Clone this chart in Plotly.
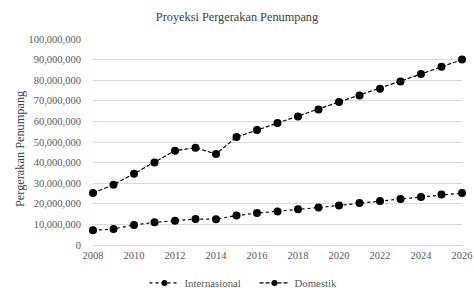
import plotly.graph_objects as go

years = list(range(2008, 2027))
internasional = [7.1, 7.8, 9.7, 11.0, 11.8, 12.6, 12.5, 14.3, 15.5, 16.3, 17.3, 18.2,
                 19.2, 20.4, 21.3, 22.3, 23.3, 24.5, 25.2]
domestik = [25.2, 29.3, 34.6, 40.1, 45.8, 47.2, 44.2, 52.4, 55.8, 59.2, 62.4, 65.8,
            69.4, 72.6, 75.9, 79.4, 83.0, 86.5, 90.0]
internasional = [v * 1e6 for v in internasional]
domestik = [v * 1e6 for v in domestik]
series_names = ["Internasional", "Domestik"]

title_text = "Proyeksi Pergerakan Penumpang"
y_title = "Pergerakan Penumpang"

FONT = "Liberation Serif, Times New Roman, serif"
GREY = "#595959"
DARK = "#404040"
dashes = {"Internasional": "dot", "Domestik": "4px,2px"}

fig = go.Figure()
for name, vals in zip(series_names, [internasional, domestik]):
    fig.add_trace(go.Scatter(
        x=years, y=vals, name=name, mode="lines+markers", showlegend=False,
        line=dict(color="black", width=1.2, dash=dashes[name]),
        marker=dict(symbol="circle", size=8, color="black"),
        cliponaxis=False,
    ))
# legend entries with smaller symbols
for name in series_names:
    fig.add_trace(go.Scatter(
        x=[None], y=[None], name=name, mode="lines+markers",
        line=dict(color="black", width=1.2, dash=dashes[name]),
        marker=dict(symbol="circle", size=6, color="black"),
    ))

fig.update_layout(
    template="none",
    width=474, height=288,
    margin=dict(l=93, r=12, t=39, b=43, autoexpand=False),
    paper_bgcolor="white", plot_bgcolor="white",
    font=dict(family=FONT, size=10.5, color=GREY),
    title=dict(text=title_text, x=0.5, xanchor="center", y=1 - 17 / 288, yanchor="middle",
               font=dict(family=FONT, size=12.3, color=DARK)),
    showlegend=True,
    legend=dict(orientation="h", xref="container", x=254.5 / 474, xanchor="center",
                y=-0.184, yanchor="middle",
                font=dict(family=FONT, size=10.8, color=GREY), itemwidth=30,
                entrywidth=65, entrywidthmode="pixels",
                bgcolor="rgba(0,0,0,0)"),
    annotations=[dict(
        text=y_title, textangle=-90, xref="paper", yref="paper",
        x=(20 - 93) / 369, y=(245 - 149) / 206, xanchor="center", yanchor="middle",
        showarrow=False, font=dict(family=FONT, size=12.3, color=DARK),
    )],
)
fig.update_xaxes(
    automargin=False,
    range=[2008, 2026], tickmode="linear", tick0=2008, dtick=2,
    showgrid=False, zeroline=False, showline=True, linecolor="#d9d9d9", linewidth=1,
    ticks="", tickfont=dict(family=FONT, size=10.5, color=GREY),
)
fig.update_yaxes(
    automargin=False,
    range=[0, 100e6], tickmode="linear", tick0=0, dtick=10e6, tickformat=",d",
    showgrid=True, gridcolor="#d9d9d9", gridwidth=1, zeroline=False, showline=False,
    ticks="outside", ticklen=9, tickcolor="rgba(0,0,0,0)",
    tickfont=dict(family=FONT, size=10.5, color=GREY),
)
fig.write_html("out.html", config={"displayModeBar": False},
               post_script="document.body.style.margin='0';document.body.style.overflow='hidden';")
